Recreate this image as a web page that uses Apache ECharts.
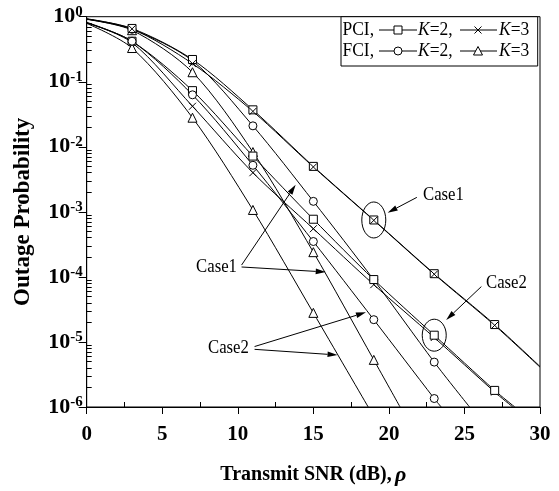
<!DOCTYPE html>
<html><head><meta charset="utf-8">
<script src="https://cdn.jsdelivr.net/npm/echarts@6/dist/echarts.min.js"></script>
<style>html,body{margin:0;padding:0;background:#fff}#c{width:559px;height:491px}</style>
</head><body><div id="c"></div>
<script>
// ---- data ----
const snr = [0, 3, 7, 11, 15, 19, 23, 27];
// Case 1
const pciK2Case1 = [0.93, 0.66, 0.22, 0.037, 5.0e-3, 7.5e-4, 1.12e-4, 1.85e-5];
const pciK2Case1End = [30, 4.2e-6];
const pciK3Case1 = [0.92, 0.65, 0.19, 0.035, 4.9e-3, 7.4e-4, 1.10e-4, 1.8e-5];
const pciK3Case1End = [30, 4.1e-6];
const fciK2Case1 = [0.92, 0.64, 0.21, 0.021, 1.45e-3, 9.0e-5, 4.9e-6];
const fciK2Case1End = [25.34, 1e-6];
const fciK3Case1 = [0.91, 0.62, 0.14, 0.0083, 2.4e-4, 5.3e-6];
const fciK3Case1End = [20.74, 1e-6];
// Case 2
const pciK2Case2 = [0.82, 0.42, 0.073, 0.0072, 7.7e-4, 9.1e-5, 1.27e-5, 1.8e-6];
const pciK2Case2End = [28.33, 1e-6];
const pciK3Case2 = [0.81, 0.40, 0.042, 0.0040, 5.5e-4, 7.6e-5, 1.17e-5, 1.7e-6];
const pciK3Case2End = [28.2, 1e-6];
const fciK2Case2 = [0.80, 0.42, 0.063, 0.0052, 3.5e-4, 2.2e-5, 1.35e-6];
const fciK2Case2End = [23.46, 1e-6];
const fciK3Case2 = [0.79, 0.33, 0.028, 0.00107, 2.8e-5];
const fciK3Case2End = [18.63, 1e-6];

const xTicks = [0, 5, 10, 15, 20, 25, 30];
// annotations in data coordinates
const ellipseCenters = [[19, 7.5e-4], [23, 1.27e-5]];
const caseLabelText = ['Case1', 'Case2', 'Case1', 'Case2'];
const caseLabelPos = [[23.61, 1.79e-3], [27.78, 8.1e-5], [8.59, 1.41e-4], [9.38, 7.9e-6]];
const arrowFrom = [[21.85, 1.67e-3], [26.12, 7.1e-5], [10.25, 1.52e-4], [10.25, 1.42e-4], [11.11, 8.5e-6], [11.11, 7.7e-6]];
const arrowTo = [[19.92, 9.7e-4], [23.79, 2.18e-5], [13.83, 2.6e-3], [15.82, 1.19e-4], [18.48, 2.85e-5], [16.6, 6.3e-6]];

// ---- chart ----
const FONT = '"Liberation Serif", "Times New Roman", serif';
const X_PATH = 'path://M0,0L10,10M0,10L10,0';
const chart = echarts.init(document.getElementById('c'));

function buildSeries(name, vals, end, symbol, size) {
  const data = [];
  vals.forEach(function (v, i) {
    const item = { value: [snr[i], v] };
    if (snr[i] === 0) item.symbol = 'none';
    data.push(item);
  });
  data.push({ value: end, symbol: 'none' });
  return {
    type: 'line', name: name, data: data, symbol: symbol, symbolSize: size,
    xAxisIndex: 0, yAxisIndex: 0,
    showSymbol: true, smooth: 0.3, clip: true,
    lineStyle: { color: '#000', width: 1 },
    itemStyle: { color: '#fff', borderColor: '#000', borderWidth: 1 },
    emphasis: { disabled: true }, animation: false
  };
}

const series = [
  buildSeries('FCI K=3 Case1', fciK3Case1, fciK3Case1End, 'triangle', 9),
  buildSeries('FCI K=2 Case1', fciK2Case1, fciK2Case1End, 'circle', 8),
  buildSeries('PCI K=2 Case1', pciK2Case1, pciK2Case1End, 'rect', 8),
  buildSeries('PCI K=3 Case1', pciK3Case1, pciK3Case1End, X_PATH, 7),
  buildSeries('FCI K=3 Case2', fciK3Case2, fciK3Case2End, 'triangle', 9),
  buildSeries('PCI K=3 Case2', pciK3Case2, pciK3Case2End, X_PATH, 7),
  buildSeries('PCI K=2 Case2', pciK2Case2, pciK2Case2End, 'rect', 8),
  buildSeries('FCI K=2 Case2', fciK2Case2, fciK2Case2End, 'circle', 8)
];

const blk = { color: '#000', width: 1 };

chart.setOption({
  animation: false,
  backgroundColor: '#fff',
  grid: { left: 86.7, right: 19, top: 16.7, bottom: 75.3, show: true, borderColor: '#000', borderWidth: 1, backgroundColor: 'transparent' },
  xAxis: [{
    type: 'value', min: xTicks[0], max: xTicks[xTicks.length - 1], interval: 5, position: 'bottom',
    axisLine: { show: true, lineStyle: blk },
    axisTick: { show: true, inside: false, length: 7, lineStyle: blk },
    minorTick: { show: false },
    splitLine: { show: false },
    axisLabel: { margin: 17, fontFamily: FONT, fontWeight: 'bold', fontSize: 21, color: '#000' },
    name: '{b|Transmit SNR (dB),} {i|ρ}', nameLocation: 'middle', nameGap: 57,
    nameTextStyle: { rich: {
      b: { fontFamily: FONT, fontWeight: 'bold', fontSize: 20, color: '#000' },
      i: { fontFamily: FONT, fontStyle: 'italic', fontWeight: 'bold', fontSize: 22, color: '#000' } } }
  }, {
    type: 'value', min: xTicks[0], max: xTicks[xTicks.length - 1], interval: 5, position: 'bottom',
    axisLine: { show: false }, axisLabel: { show: false }, splitLine: { show: false },
    axisTick: { show: false, inside: true },
    minorTick: { show: true, splitNumber: 2, length: 5, lineStyle: blk }
  }],
  yAxis: [{
    type: 'log', logBase: 10, min: 1e-6, max: 1, interval: 1, position: 'left',
    axisLine: { show: true, lineStyle: blk },
    axisTick: { show: true, inside: false, length: 8, lineStyle: blk },
    minorTick: { show: false },
    splitLine: { show: false },
    axisLabel: {
      margin: 4,
      formatter: function (v) { const e = Math.round(Math.log10(v)); return '{b|10}{s|' + e + '}'; },
      rich: {
        b: { fontFamily: FONT, fontWeight: 'bold', fontSize: 22, color: '#000', lineHeight: 24 },
        s: { fontFamily: FONT, fontWeight: 'bold', fontSize: 15, color: '#000', verticalAlign: 'top', lineHeight: 15 }
      }
    },
    name: 'Outage Probability', nameLocation: 'middle', nameGap: 52,
    nameTextStyle: { fontFamily: FONT, fontWeight: 'bold', fontSize: 23, color: '#000' }
  }, {
    type: 'log', logBase: 10, min: 1e-6, max: 1, interval: 1, position: 'left',
    axisLine: { show: false }, axisLabel: { show: false }, splitLine: { show: false },
    axisTick: { show: false, inside: true },
    minorTick: { show: true, splitNumber: 9, length: 5, lineStyle: blk }
  }],
  series: series
});

// ---- annotations & legend ----
function px(p) { return chart.convertToPixel({ xAxisIndex: 0, yAxisIndex: 0 }, p); }
const g = [];
ellipseCenters.forEach(function (c, i) {
  const p = px(c);
  g.push({ type: 'ellipse', shape: { cx: p[0], cy: p[1], rx: 12, ry: i === 0 ? 18 : 16 }, style: { fill: 'none', stroke: '#000', lineWidth: 1 }, z: 100 });
});
caseLabelText.forEach(function (t, i) {
  const p = px(caseLabelPos[i]);
  g.push({ type: 'text', x: p[0], y: p[1], style: { text: t, font: '18px ' + FONT, fill: '#000', align: 'center', verticalAlign: 'middle' }, scaleX: 0.93, z: 100 });
});
arrowFrom.forEach(function (f, i) {
  const a = px(f), b = px(arrowTo[i]);
  const dx = b[0] - a[0], dy = b[1] - a[1], L = Math.sqrt(dx * dx + dy * dy);
  const ux = dx / L, uy = dy / L, nx = -uy, ny = ux, hl = 10, hw = 2.8;
  const bx = b[0] - ux * hl, by = b[1] - uy * hl;
  g.push({ type: 'line', shape: { x1: a[0], y1: a[1], x2: bx, y2: by }, style: { stroke: '#000', lineWidth: 1 }, z: 100 });
  g.push({ type: 'polygon', shape: { points: [[b[0], b[1]], [bx + nx * hw, by + ny * hw], [bx - nx * hw, by - ny * hw]] }, style: { fill: '#000' }, z: 100 });
});

// legend box
const LX = 341, LY = 16.7, LR = 537.7, LB = 66;
g.push({ type: 'rect', shape: { x: LX, y: LY, width: LR - LX, height: LB - LY }, style: { fill: '#fff', stroke: '#000', lineWidth: 1 }, z: 90 });
const rows = [{ y: 30, pre: 'PCI,', m1: 'rect', m2: 'x' }, { y: 51, pre: 'FCI,', m1: 'circle', m2: 'triangle' }];
function marker(kind, cx, cy) {
  const st = { fill: '#fff', stroke: '#000', lineWidth: 1 };
  if (kind === 'rect') return { type: 'rect', shape: { x: cx - 4, y: cy - 4, width: 8, height: 8 }, style: st, z: 96 };
  if (kind === 'circle') return { type: 'circle', shape: { cx: cx, cy: cy, r: 4 }, style: st, z: 96 };
  if (kind === 'triangle') return { type: 'polygon', shape: { points: [[cx, cy - 4.5], [cx + 4.5, cy + 4], [cx - 4.5, cy + 4]] }, style: st, z: 96 };
  return { type: 'group', z: 96, children: [
    { type: 'line', shape: { x1: cx - 3.5, y1: cy - 3.5, x2: cx + 3.5, y2: cy + 3.5 }, style: { stroke: '#000', lineWidth: 1 }, z: 96 },
    { type: 'line', shape: { x1: cx - 3.5, y1: cy + 3.5, x2: cx + 3.5, y2: cy - 3.5 }, style: { stroke: '#000', lineWidth: 1 }, z: 96 }] };
}
const richI = { i: { fontStyle: 'italic', fontSize: 19, fontFamily: FONT } };
rows.forEach(function (r) {
  g.push({ type: 'text', x: 374, y: r.y, scaleX: 0.92, style: { text: r.pre, font: '19px ' + FONT, fill: '#000', align: 'right', verticalAlign: 'middle' }, z: 95 });
  g.push({ type: 'line', shape: { x1: 379, y1: r.y, x2: 417, y2: r.y }, style: { stroke: '#000', lineWidth: 1 }, z: 95 });
  g.push(marker(r.m1, 398, r.y));
  g.push({ type: 'text', x: 418, y: r.y, scaleX: 0.92, style: { text: '{i|K}=2,', font: '19px ' + FONT, fill: '#000', verticalAlign: 'middle', rich: richI }, z: 95 });
  g.push({ type: 'line', shape: { x1: 460, y1: r.y, x2: 497, y2: r.y }, style: { stroke: '#000', lineWidth: 1 }, z: 95 });
  g.push(marker(r.m2, 478, r.y));
  g.push({ type: 'text', x: 499, y: r.y, scaleX: 0.92, style: { text: '{i|K}=3', font: '19px ' + FONT, fill: '#000', verticalAlign: 'middle', rich: richI }, z: 95 });
});
chart.setOption({ graphic: g });
</script></body></html>
